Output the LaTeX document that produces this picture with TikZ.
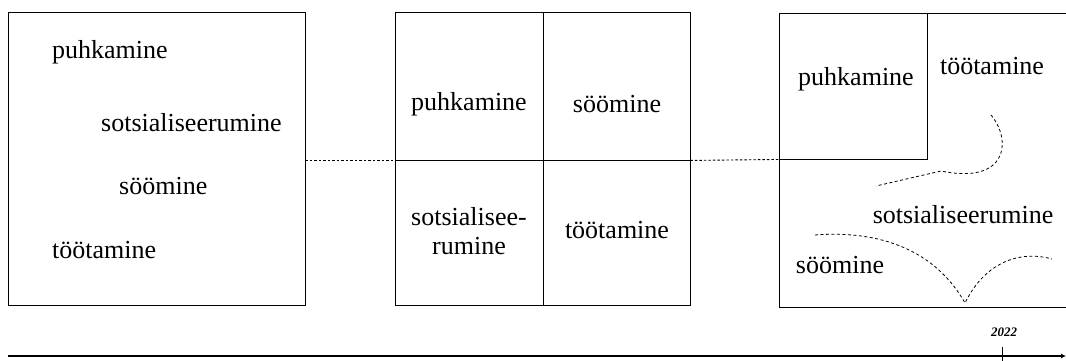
\documentclass[tikz,border=0pt]{standalone}
\usepackage{fontspec}
\setmainfont{Liberation Serif}
\usetikzlibrary{arrows.meta}
\begin{document}
\begin{tikzpicture}[x=1pt,y=-1pt,
  panel/.style={draw, line width=0.9pt, inner sep=0pt},
  lbl/.style={font=\fontsize{26}{29}\selectfont, inner sep=0pt, align=center},
  link/.style={line width=0.9pt, dash pattern=on 2.5pt off 2pt},
  trace/.style={line width=0.8pt, dash pattern=on 3pt off 2.5pt},
  axis/.style={line width=1.2pt, -{Latex[length=5pt,width=5pt]}}]
\useasboundingbox (0,0) rectangle (1066,361);

% first stage: one big box, activities scattered
\node[panel, minimum width=297pt, minimum height=293pt] (b1) at (156.5,158.5) {};
\node[lbl, anchor=west] (a1) at (52,52) {puhkamine};
\node[lbl, anchor=west] (a2) at (101,123) {sotsialiseerumine};
\node[lbl, anchor=west] (a3) at (119,186) {söömine};
\node[lbl, anchor=west] (a4) at (52,250) {töötamine};

% second stage: four equal quadrants
\node[panel, minimum width=148pt, minimum height=148pt] (q1) at (469,86) {};
\node[panel, minimum width=147pt, minimum height=148pt] (q2) at (616.5,86) {};
\node[panel, minimum width=148pt, minimum height=145pt] (q3) at (469,232.5) {};
\node[panel, minimum width=147pt, minimum height=145pt] (q4) at (616.5,232.5) {};
\node[lbl] (c1) at (469,104) {puhkamine};
\node[lbl] (c2) at (617,104) {söömine};
\node[lbl] (c3) at (469,231) {sotsialisee-\\rumine};
\node[lbl] (c4) at (617,230) {töötamine};

% third stage: open frame with one fixed square
\node[panel, minimum width=291pt, minimum height=294pt] (b3) at (924.5,160) {};
\node[panel, minimum width=148pt, minimum height=146pt] (sq) at (853,86) {};
\node[lbl] (d1) at (856,79) {puhkamine};
\node[lbl] (d2) at (992,66) {töötamine};
\node[lbl] (d3) at (963,215) {sotsialiseerumine};
\node[lbl] (d4) at (840,265) {söömine};

% dashed traces
\draw[trace] (991,115) .. controls (1012,140) and (1008,185) .. (941,171) -- (876,186);
\draw[trace] (815,235) .. controls (880,230) and (935,250) .. (965,303)
             .. controls (985,262) and (1020,250) .. (1052,259);

% links between stages
\draw[link] (b1.east |- q1.south west) -- (q1.south west);
\draw[link] (q2.south east) -- (sq.south west);

% time axis
\coordinate (t0) at (8,356);
\coordinate (t1) at (1066,356);
\draw[axis] (t0) -- (t1);
\coordinate (tk) at (1002,356);
\draw[line width=0.9pt] ([yshift=-9pt]tk) -- ([yshift=9pt]tk);
\node[font=\fontsize{13}{15}\selectfont\bfseries\itshape, inner sep=0pt] (yr) at (1004,332) {2022};
\end{tikzpicture}
\end{document}
